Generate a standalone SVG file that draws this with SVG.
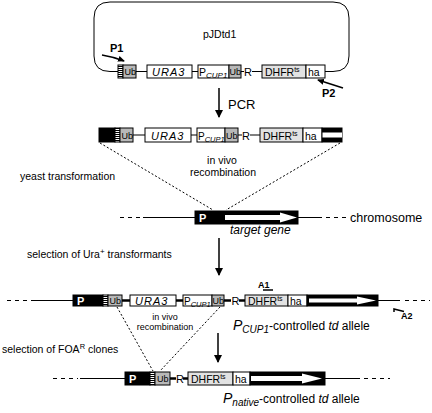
<svg xmlns="http://www.w3.org/2000/svg" width="432" height="413" viewBox="0 0 432 413">
<defs>
<pattern id="st" width="4" height="2" patternUnits="userSpaceOnUse"><rect width="4" height="1" fill="#000"/></pattern>
<marker id="ah" markerWidth="8" markerHeight="8" refX="7" refY="4" orient="auto" markerUnits="userSpaceOnUse"><path d="M0,0 L8,4 L0,8 Z" fill="#000"/></marker>
<marker id="ahs" markerWidth="7" markerHeight="6" refX="6" refY="3" orient="auto" markerUnits="userSpaceOnUse"><path d="M0,0 L7,3 L0,6 Z" fill="#000"/></marker>
</defs>
<style>
text{font-family:"Liberation Sans",Arial,sans-serif;fill:#000}
.box{fill:#fff;stroke:#000;stroke-width:1}
.ub{fill:#b8b8b8;stroke:#000;stroke-width:1}
.dh{fill:#e2e2e2;stroke:#000;stroke-width:1}
.blk{fill:#000;stroke:#000}
.ln{stroke:#000;stroke-width:1;fill:none}
.tk{stroke:#000;stroke-width:2.5;fill:none}
.ds{stroke:#000;stroke-width:1;fill:none;stroke-dasharray:4 4}
.dt{stroke:#000;stroke-width:1;fill:none;stroke-dasharray:2 2}
.lb{font-size:9px}
.bl{font-size:10.5px}
.it{font-style:italic}
.w{fill:#fff;font-weight:bold;font-size:11px}
.b{font-weight:bold}
</style>

<!-- plasmid -->
<g id="plasmid">
<path class="ln" d="M110,2 H333 Q349,2 349,18 V56 Q349,71.5 333,71.5 H325 M118,71.5 H110 Q94,71.5 94,56 V18 Q94,2 110,2"/>
<text x="203" y="38" style="font-size:10.5px">pJDtd1</text>
</g>
<g id="row1">
<path class="ln" d="M136,71.5 H147 M192,71.5 H198 M241,71.5 H244 M252,71.5 H262"/>
<rect class="box" x="118" y="65" width="5" height="13"/><rect x="118" y="65" width="5" height="13" fill="url(#st)"/>
<rect class="ub" x="123" y="65" width="13" height="13"/><text class="lb" x="124.5" y="75">Ub</text>
<rect class="box" x="147" y="65" width="45" height="13"/><text class="it" x="152" y="76" style="font-size:11px;letter-spacing:1px">URA3</text>
<rect class="box" x="198" y="65" width="31" height="13"/><text x="199" y="76" style="font-size:10.5px">P<tspan class="it" style="font-size:8px" dy="2">CUP1</tspan></text>
<rect class="ub" x="229" y="65" width="12" height="13"/><text class="lb" x="229.5" y="75">Ub</text>
<text x="244" y="76" style="font-size:11px">R</text>
<rect class="dh" x="262" y="65" width="44" height="13"/><text x="265" y="76" style="font-size:10.5px">DHFR<tspan style="font-size:7px" dy="-4">ts</tspan></text>
<rect class="box" x="306" y="65" width="19" height="13"/><text x="308" y="76" style="font-size:10.5px">ha</text>
</g>
<g id="P1"><text class="b" x="110" y="52" style="font-size:11px">P1</text></g>
<g id="P2"><text class="b" x="322" y="97" style="font-size:11px">P2</text></g>

<g id="pcr"><text x="228" y="109" style="font-size:13px">PCR</text></g>

<g id="row2">
<path class="ln" d="M133,135 H145 M191,135 H197 M238,135 H242 M250,135 H260"/>
<rect class="blk" x="99" y="128" width="16" height="14"/>
<rect class="box" x="115" y="128" width="5" height="14"/><rect x="115" y="128" width="5" height="14" fill="url(#st)"/>
<rect class="ub" x="120" y="128" width="13" height="14"/><text class="lb" x="121.5" y="138.5">Ub</text>
<rect class="box" x="145" y="128" width="46" height="14"/><text class="it" x="151" y="139.5" style="font-size:11px;letter-spacing:1px">URA3</text>
<rect class="box" x="197" y="128" width="28" height="14"/><text x="198" y="139.5" style="font-size:10px">P<tspan class="it" style="font-size:7.5px" dy="2">CUP1</tspan></text>
<rect class="ub" x="225" y="128" width="13" height="14"/><text class="lb" x="226" y="138.5">Ub</text>
<text x="242" y="139.5" style="font-size:11px">R</text>
<rect class="dh" x="260" y="128" width="43" height="14"/><text x="263" y="139.5" style="font-size:10.5px">DHFR<tspan style="font-size:7px" dy="-4">ts</tspan></text>
<rect class="box" x="303" y="128" width="19" height="14"/><text x="305" y="139.5" style="font-size:10.5px">ha</text>
<rect class="blk" x="322" y="128" width="20" height="14"/>
<rect x="322.5" y="132.5" width="19.5" height="5" fill="#fff"/>
</g>
<g id="recomb1">
<text x="222" y="164" text-anchor="middle" style="font-size:10.5px">in vivo</text>
<text x="223" y="176" text-anchor="middle" style="font-size:10.5px">recombination</text>
</g>
<g id="yeast"><text x="20" y="180" style="font-size:10.5px">yeast transformation</text></g>

<g id="chromosome">
<path class="ds" d="M120,217.5 H143"/>
<path class="ln" d="M143,217.5 H195 M298,217.5 H322"/>
<path class="ds" d="M326,217.5 H346"/>
<rect class="blk" x="195" y="211" width="103" height="13"/>
<text class="w" x="199" y="222">P</text>
<path d="M225,215 H280 V212.5 L297,217.5 L280,222.5 V220 H225 Z" fill="#fff"/>
<text x="350" y="222" style="font-size:12.5px">chromosome</text>
<text class="it" x="230" y="234" style="font-size:12px">target gene</text>
</g>

<g id="ura"><text x="27" y="258" style="font-size:10.5px">selection of Ura<tspan style="font-size:8px" dy="-4">+</tspan><tspan dy="4"> transformants</tspan></text></g>

<g id="row3">
<path class="ds" d="M7,300.5 H33"/>
<path class="ln" d="M33,300.5 H73 M378,300.5 H400"/>
<path class="ds" d="M405,300.5 H430"/>
<path class="tk" d="M122,300.5 H130 M176,300.5 H183 M224,300.5 H231 M239,300.5 H245"/>
<rect class="blk" x="73" y="295" width="30" height="11"/>
<text class="w" x="77" y="305">P</text>
<rect class="box" x="103" y="295" width="5" height="11"/><rect x="103" y="295" width="5" height="11" fill="url(#st)"/>
<rect class="ub" x="108" y="295" width="14" height="11"/><text class="lb" x="109.5" y="304">Ub</text>
<rect class="box" x="130" y="295" width="46" height="11"/><text class="it" x="135" y="305" style="font-size:11px;letter-spacing:1px">URA3</text>
<rect class="box" x="183" y="295" width="29" height="11"/><text x="184" y="305" style="font-size:10px">P<tspan class="it" style="font-size:7.5px" dy="2">CUP1</tspan></text>
<rect class="ub" x="212" y="295" width="12" height="11"/><text class="lb" x="212.5" y="304">Ub</text>
<text x="231.5" y="305" style="font-size:11px">R</text>
<rect class="dh" x="245" y="295" width="43" height="11"/><text x="248" y="305" style="font-size:10.5px">DHFR<tspan style="font-size:7px" dy="-4">ts</tspan></text>
<rect class="box" x="288" y="295" width="19" height="11"/><text x="290" y="305" style="font-size:10.5px">ha</text>
<rect class="blk" x="307" y="295" width="71" height="11"/>
<path d="M309,298.5 H357 V296.5 L376,300.5 L357,304.5 V302.5 H309 Z" fill="#fff"/>
</g>
<g id="A1"><text class="b" x="258" y="288" style="font-size:9px">A1</text><path class="ln" d="M263,290 H273" style="stroke-width:1.5"/></g>
<g id="A2"><path class="ln" d="M394,312 V309 L404,311.5" style="stroke-width:1.5"/><text class="b" x="401" y="319" style="font-size:9px">A2</text></g>

<g id="recomb2">
<text x="165" y="320" text-anchor="middle" style="font-size:9px">in vivo</text>
<text x="165" y="330" text-anchor="middle" style="font-size:9px">recombination</text>
</g>
<g id="cup1label"><text x="233" y="330" style="font-size:12px"><tspan class="it" style="font-size:14px">P</tspan><tspan class="it" style="font-size:10px" dy="3">CUP1</tspan><tspan dy="-3">-controlled </tspan><tspan class="it">td</tspan> allele</text></g>
<g id="foa"><text x="2" y="353" style="font-size:10.5px">selection of FOA<tspan style="font-size:7.5px" dy="-4">R</tspan><tspan dy="4"> clones</tspan></text></g>

<g id="row4">
<path class="ds" d="M53,378.5 H78"/>
<path class="ln" d="M80,378.5 H125 M325,378.5 H360"/>
<path class="ds" d="M364,378.5 H390"/>
<path class="tk" d="M170,378.5 H176 M183,378.5 H188"/>
<rect class="blk" x="125" y="372" width="25" height="13"/>
<text class="w" x="129" y="383">P</text>
<rect class="box" x="150" y="372" width="5" height="13"/><rect x="150" y="372" width="5" height="13" fill="url(#st)"/>
<rect class="ub" x="155" y="372" width="15" height="13"/><text class="lb" x="157" y="382">Ub</text>
<text x="176" y="383" style="font-size:11px">R</text>
<rect class="dh" x="188" y="372" width="45" height="13"/><text x="191" y="383" style="font-size:10.5px">DHFR<tspan style="font-size:7px" dy="-4">ts</tspan></text>
<rect class="box" x="233" y="372" width="17" height="13"/><text x="235" y="383" style="font-size:10.5px">ha</text>
<rect class="blk" x="250" y="372" width="75" height="13"/>
<path d="M251,376 H302 V373.5 L322,378.5 L302,383.5 V381 H251 Z" fill="#fff"/>
</g>
<g id="nativelabel"><text x="223" y="403" style="font-size:12px"><tspan class="it" style="font-size:14px">P</tspan><tspan class="it" style="font-size:10px" dy="3">native</tspan><tspan dy="-3">-controlled </tspan><tspan class="it">td</tspan> allele</text></g>

<g id="connectors">
<path class="ln" d="M102,55 Q114,57 124,61" marker-end="url(#ahs)" style="stroke-width:1.5"/>
<path class="ln" d="M343,88 L318,80" marker-end="url(#ahs)" style="stroke-width:1.5"/>
<path class="ln" d="M219,88 V117" marker-end="url(#ah)" style="stroke-width:1.5"/>
<path class="ln" d="M219,238 V275" marker-end="url(#ah)" style="stroke-width:1.5"/>
<path class="ln" d="M218,333 V362" marker-end="url(#ah)" style="stroke-width:1.5"/>
<path class="dt" d="M100,143 L213,210"/>
<path class="dt" d="M340,143 L226,210"/>
<path class="dt" d="M117,307 L153,371"/>
<path class="dt" d="M220,307 L160,371"/>
</g>
</svg>
